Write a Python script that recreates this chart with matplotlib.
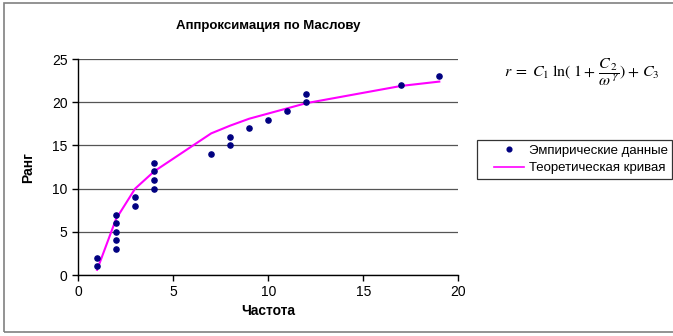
import matplotlib
matplotlib.use("Agg")
import numpy as np
import matplotlib.pyplot as plt
from matplotlib.patches import Rectangle
from matplotlib.lines import Line2D
from matplotlib.legend_handler import HandlerLine2D

plt.rcParams['font.family'] = ['Liberation Sans', 'DejaVu Sans']
plt.rcParams['mathtext.fontset'] = 'stix'

# Empirical data: frequency vs rank
freq = [1, 1, 2, 2, 2, 2, 2, 3, 3, 4, 4, 4, 4, 7, 8, 8, 9, 10, 11, 12, 12, 17, 19]
rank = [1, 2, 3, 4, 5, 6, 7, 8, 9, 10, 11, 12, 13, 14, 15, 16, 17, 18, 19, 20, 21, 22, 23]

# Theoretical (Maslov) curve evaluated at the distinct frequencies
curve_x = [1, 2, 3, 4, 7, 8, 9, 10, 11, 12, 17, 19]
curve_y = [0.6, 6.5, 10.0, 12.0, 16.4, 17.3, 18.1, 18.7, 19.3, 19.9, 21.9, 22.4]

xticks = [0, 5, 10, 15, 20]
yticks = [0, 5, 10, 15, 20, 25]

MARKER_COLOR = '#000080'
CURVE_COLOR = '#ff00ff'


class IndentedHandler(HandlerLine2D):
    """Legend handle that leaves a gap on its left side."""
    def get_xdata(self, legend, xdescent, ydescent, width, height, fontsize):
        x = np.array([0.3 * width - xdescent, width - xdescent])
        return x, x


fig = plt.figure(figsize=(6.73, 3.36), dpi=100)
fig.patches.append(Rectangle((0.006, 0.012), 1.2, 0.979, transform=fig.transFigure,
                             fill=False, edgecolor='#808080', linewidth=1.2))

ax = fig.add_axes([0.116, 0.1815, 0.565, 0.6425])
ax.set_xlim(0, 20)
ax.set_ylim(0, 25)
ax.set_xticks(xticks)
ax.set_yticks(yticks)
ax.yaxis.grid(True, color='#555555', linewidth=0.9)
ax.set_axisbelow(True)
for s in ['top', 'right']:
    ax.spines[s].set_visible(False)
for s in ['left', 'bottom']:
    ax.spines[s].set_color('black')
    ax.spines[s].set_linewidth(1.0)
ax.tick_params(direction='out', length=4, width=1, labelsize=10, colors='black')

ax.plot(curve_x, curve_y, color=CURVE_COLOR, linewidth=1.5, zorder=2)
ax.scatter(freq, rank, s=14, color=MARKER_COLOR, zorder=3)

ax.set_xlabel('Частота', fontsize=10, fontweight='bold', labelpad=3)
ax.set_ylabel('Ранг', fontsize=10, fontweight='bold', labelpad=12)
ax.set_title('Аппроксимация по Маслову', fontsize=9.5, fontweight='bold', pad=22)

fig.text(0.865, 0.784, r'$r\;=\;C_1\;\mathrm{ln}(\;1+\,\dfrac{C_{\,2}}{\omega^{\,\gamma}})+\,C_3$',
         ha='center', va='center', fontsize=11.5)

legend_handles = [
    Line2D([], [], linestyle='none', marker='o', markersize=3.4, color=MARKER_COLOR),
    Line2D([], [], color=CURVE_COLOR, linewidth=1.2),
]
legend_labels = ['Эмпирические данные', 'Теоретическая кривая']
leg = fig.legend(legend_handles, legend_labels, loc='upper left',
                 bbox_to_anchor=(0.709, 0.583), frameon=True, fancybox=False,
                 fontsize=9.5, handlelength=3.2, borderpad=0.35, labelspacing=0.4,
                 handletextpad=0.35, borderaxespad=0, numpoints=1,
                 handler_map={Line2D: IndentedHandler()})
leg.get_frame().set_edgecolor('black')
leg.get_frame().set_linewidth(0.9)

fig.savefig('out.png', dpi=100)
